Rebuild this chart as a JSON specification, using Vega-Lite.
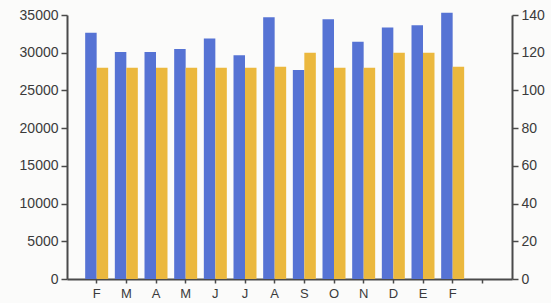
{
  "$schema": "https://vega.github.io/schema/vega-lite/v6.json",
  "width": 445,
  "height": 264,
  "autosize": "none",
  "padding": {"left": 67, "top": 15, "right": 39, "bottom": 24},
  "background": "#fbfbfa",
  "config": {
    "view": {"stroke": null},
    "axis": {
      "labelFont": "Liberation Sans",
      "labelFontSize": 14,
      "labelColor": "#3a3a3a",
      "domainColor": "#4a4a4a",
      "tickColor": "#4a4a4a",
      "domainWidth": 2,
      "tickWidth": 1.5,
      "grid": false,
      "title": null
    }
  },
  "data": {
    "values": [
      {"m": "F1", "s": "a", "v": 32650},
      {"m": "M1", "s": "a", "v": 30100},
      {"m": "A1", "s": "a", "v": 30100},
      {"m": "M2", "s": "a", "v": 30500},
      {"m": "J1", "s": "a", "v": 31900},
      {"m": "J2", "s": "a", "v": 29650},
      {"m": "A2", "s": "a", "v": 34700},
      {"m": "S", "s": "a", "v": 27700},
      {"m": "O", "s": "a", "v": 34450},
      {"m": "N", "s": "a", "v": 31450},
      {"m": "D", "s": "a", "v": 33350},
      {"m": "E", "s": "a", "v": 33650},
      {"m": "F2", "s": "a", "v": 35300},
      {"m": "F1", "s": "b", "v": 112},
      {"m": "M1", "s": "b", "v": 112},
      {"m": "A1", "s": "b", "v": 112},
      {"m": "M2", "s": "b", "v": 112},
      {"m": "J1", "s": "b", "v": 112},
      {"m": "J2", "s": "b", "v": 112},
      {"m": "A2", "s": "b", "v": 112.5},
      {"m": "S", "s": "b", "v": 120},
      {"m": "O", "s": "b", "v": 112},
      {"m": "N", "s": "b", "v": 112},
      {"m": "D", "s": "b", "v": 120},
      {"m": "E", "s": "b", "v": 120},
      {"m": "F2", "s": "b", "v": 112.5}
    ]
  },
  "encoding": {
    "x": {
      "field": "m",
      "type": "nominal",
      "scale": {
        "domain": ["F1", "M1", "A1", "M2", "J1", "J2", "A2", "S", "O", "N", "D", "E", "F2", "X"],
        "paddingInner": 0.225,
        "paddingOuter": 0.6125
      },
      "axis": {
        "labelAngle": 0,
        "labelExpr": "datum.value == 'X' ? '' : substring(datum.value, 0, 1)",
        "tickSize": 4,
        "labelPadding": 4,
        "labelFontSize": 13
      }
    },
    "xOffset": {"field": "s", "type": "nominal", "scale": {"domain": ["a", "b"]}}
  },
  "layer": [
    {
      "transform": [{"filter": "datum.s == 'a'"}],
      "mark": {"type": "bar", "color": "#5673d4"},
      "encoding": {
        "y": {
          "field": "v",
          "type": "quantitative",
          "scale": {"domain": [0, 35000], "nice": false},
          "axis": {
            "values": [0, 5000, 10000, 15000, 20000, 25000, 30000, 35000],
            "format": "d",
            "orient": "left",
            "tickSize": 6,
            "labelPadding": 3
          }
        }
      }
    },
    {
      "transform": [{"filter": "datum.s == 'b'"}],
      "mark": {"type": "bar", "color": "#ebb83e"},
      "encoding": {
        "y": {
          "field": "v",
          "type": "quantitative",
          "scale": {"domain": [0, 140], "nice": false},
          "axis": {
            "values": [0, 20, 40, 60, 80, 100, 120, 140],
            "format": "d",
            "orient": "right",
            "tickSize": 6,
            "labelPadding": 3
          }
        }
      }
    }
  ],
  "resolve": {"scale": {"y": "independent"}}
}
